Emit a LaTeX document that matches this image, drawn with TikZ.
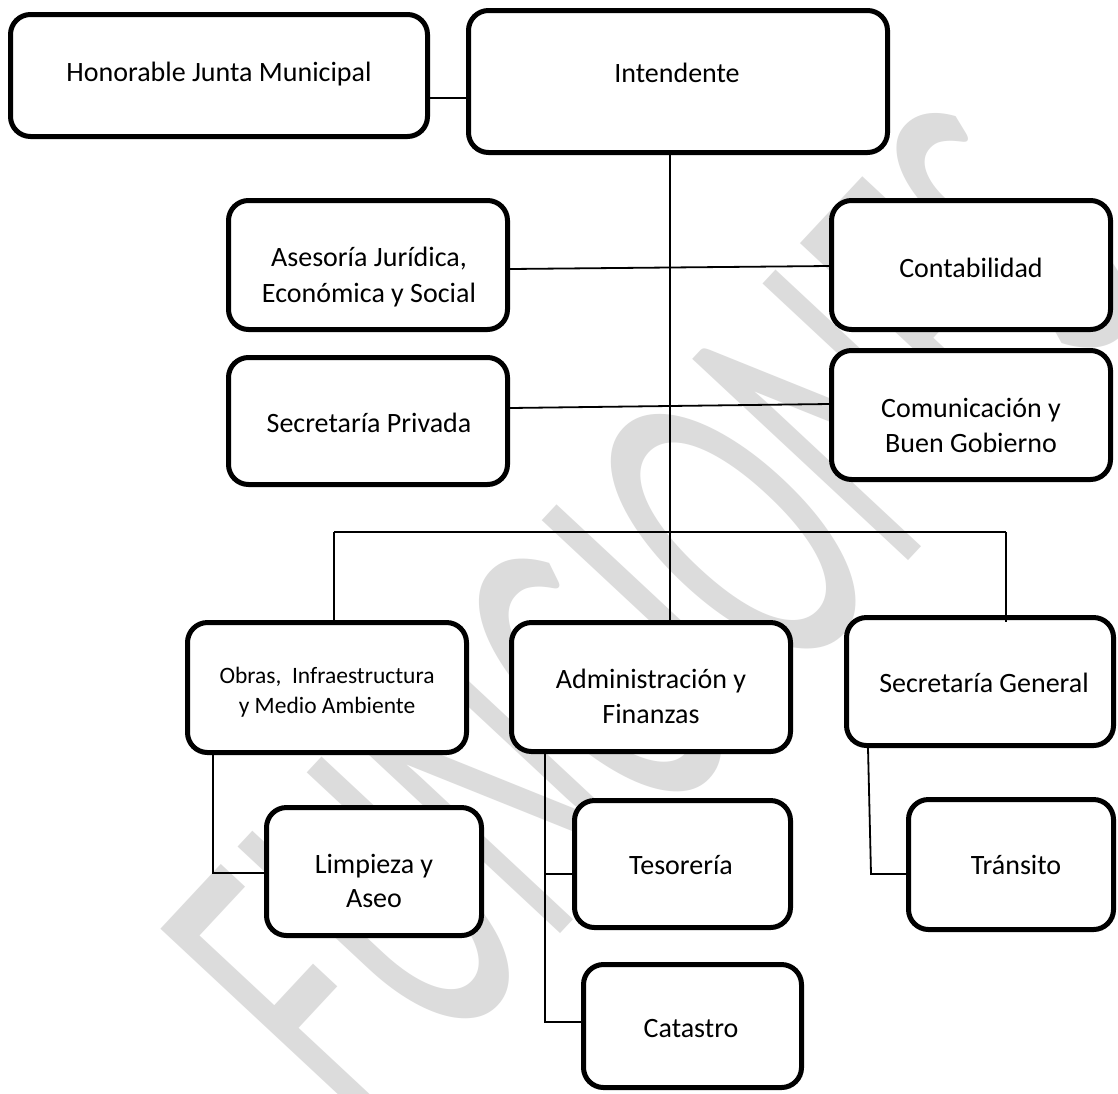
\documentclass[tikz,border=0pt]{standalone}
\usepackage{fontspec}
\setmainfont{Carlito}
\definecolor{wmgray}{RGB}{220,220,220}
\begin{document}
\begin{tikzpicture}[x=1pt,y=-1pt,
  box/.style={draw=black, fill=white, line width=5pt, rounded corners=20pt, inner sep=0pt},
  lbl/.style={inner sep=0pt, anchor=base, font=\fontsize{28}{34}\selectfont},
  slbl/.style={inner sep=0pt, anchor=base, font=\fontsize{23.5}{29}\selectfont},
  conn/.style={line width=1.8pt},
  wmark/.style={inner sep=0pt, text=wmgray, font=\fontsize{460}{460}\selectfont}]
\path[use as bounding box] (0,0) rectangle (1118,1093);
\fill[white] (0,0) rectangle (1118,1093);
% watermark
\node[wmark, rotate=47, xscale=0.53] (wm) at (655,616) {FUNCIONES};
% boxes
\node[box, minimum width=417pt, minimum height=122pt] (hjm) at (219,75.5) {};
\node[box, minimum width=419pt, minimum height=142pt] (int) at (678,81.5) {};
\node[box, minimum width=279pt, minimum height=129pt] (ase) at (368,265) {};
\node[box, minimum width=279pt, minimum height=129pt] (con) at (971,265) {};
\node[box, minimum width=279pt, minimum height=127pt] (spr) at (368,421) {};
\node[box, minimum width=279pt, minimum height=129pt] (com) at (971,415) {};
\node[box, minimum width=279pt, minimum height=130pt] (obr) at (327,687.5) {};
\node[box, minimum width=279pt, minimum height=129pt] (adm) at (651,687) {};
\node[box, minimum width=267pt, minimum height=128pt] (sge) at (980,681.5) {};
\node[box, minimum width=215pt, minimum height=128pt] (lim) at (374,871.5) {};
\node[box, minimum width=216pt, minimum height=127pt] (tes) at (682.5,864) {};
\node[box, minimum width=218pt, minimum height=123pt] (cat) at (692.5,1026) {};
\node[box, minimum width=205pt, minimum height=130pt] (tra) at (1011,864.5) {};
% labels
\node[lbl] (thjm) at (219,81) {Honorable Junta Municipal};
\node[lbl] (tint) at (677,82) {Intendente};
\node[lbl] (tase1) at (369,266) {Asesoría Jurídica,};
\node[lbl] (tase2) at (369,302) {Económica y Social};
\node[lbl] (tcon) at (971,277) {Contabilidad};
\node[lbl] (tspr) at (369,432) {Secretaría Privada};
\node[lbl] (tcom1) at (971,417) {Comunicación y};
\node[lbl] (tcom2) at (971,452) {Buen Gobierno};
\node[slbl] (tobr1) at (327,683) {Obras,\ \ Infraestructura};
\node[slbl] (tobr2) at (327,713) {y Medio Ambiente};
\node[lbl] (tadm1) at (651,688) {Administración y};
\node[lbl] (tadm2) at (651,723) {Finanzas};
\node[lbl] (tsge) at (984,692) {Secretaría General};
\node[lbl] (tlim1) at (374,873) {Limpieza y};
\node[lbl] (tlim2) at (374,907) {Aseo};
\node[lbl] (ttes) at (681,874) {Tesorería};
\node[lbl] (tcat) at (691,1037) {Catastro};
\node[lbl] (ttra) at (1016,874) {Tránsito};
% junction coordinates
\coordinate (bus) at (670,532);
\coordinate (busl) at (334,532);
\coordinate (busr) at (1006,532);
\coordinate (ob) at (213,873);
\coordinate (ab1) at (545,874);
\coordinate (ab2) at (545,1022);
\coordinate (sg1) at (868,748);
\coordinate (sg2) at (871,874);
% connectors
\draw[conn] (hjm.east |- 0,98) -- (int.west |- 0,98);
\draw[conn] (int.south -| bus) -- (adm.north -| bus);
\draw[conn] (ase.east |- 0,269) -- (con.west |- 0,266);
\draw[conn] (spr.east |- 0,408) -- (com.west |- 0,404);
\draw[conn] (busl) -- (busr);
\draw[conn] (busl) -- (obr.north -| busl);
\draw[conn] (busr) -- ++(0,90);
\draw[conn] (obr.south -| ob) -- (ob) -- (lim.west |- ob);
\draw[conn] (adm.south -| ab1) -- (ab2) -- (cat.west |- ab2);
\draw[conn] (ab1) -- (tes.west |- ab1);
\draw[conn] (sg1) -- (sg2) -- (tra.west |- sg2);
\end{tikzpicture}
\end{document}
